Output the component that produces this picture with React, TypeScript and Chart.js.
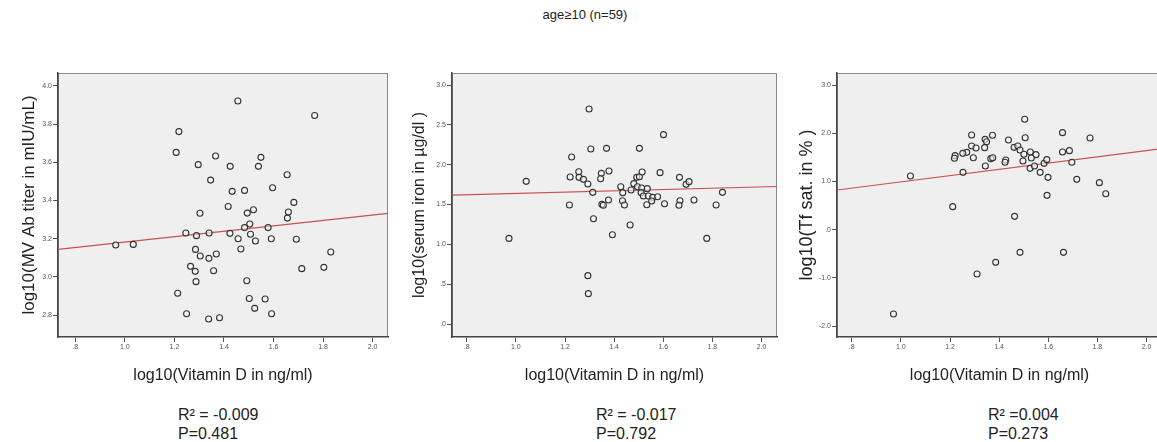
import React, { useEffect, useRef } from "react";
import { Chart, registerables } from "chart.js";

Chart.register(...registerables);
Chart.defaults.font.family = "'Liberation Sans', Arial, sans-serif";

// ---- shared tick labels ----
const xTicks = [0.8, 1.0, 1.2, 1.4, 1.6, 1.8, 2.0];
const xTickLabels = [".8", "1.0", "1.2", "1.4", "1.6", "1.8", "2.0"];

const y1Ticks = [2.8, 3.0, 3.2, 3.4, 3.6, 3.8, 4.0];
const y1TickLabels = ["2.8", "3.0", "3.2", "3.4", "3.6", "3.8", "4.0"];
const y2Ticks = [0, 0.5, 1.0, 1.5, 2.0, 2.5, 3.0];
const y2TickLabels = [".0", ".5", "1.0", "1.5", "2.0", "2.5", "3.0"];
const y3Ticks = [-2, -1, 0, 1, 2, 3];
const y3TickLabels = ["-2.0", "-1.0", ".0", "1.0", "2.0", "3.0"];

// ---- panel 1: MV Ab titer ----
const abX = [1.456, 1.766, 1.218, 1.207, 1.366, 1.549, 1.296, 1.425, 1.539, 1.655, 1.346, 1.596, 1.433, 1.483, 1.417, 1.682, 1.303, 1.494, 1.519, 1.660, 1.656, 1.504, 1.483, 1.578, 1.246, 1.340, 1.424, 1.289, 1.507, 1.457, 1.527, 1.591, 1.692, 0.963, 1.034, 1.285, 1.304, 1.369, 1.339, 1.468, 1.831, 1.265, 1.284, 1.358, 1.714, 1.803, 1.287, 1.492, 1.213, 1.502, 1.566, 1.524, 1.249, 1.592, 1.338, 1.382];
const abY = [3.921, 3.845, 3.761, 3.652, 3.633, 3.626, 3.588, 3.579, 3.579, 3.535, 3.507, 3.467, 3.448, 3.453, 3.369, 3.390, 3.333, 3.334, 3.352, 3.340, 3.308, 3.277, 3.258, 3.258, 3.230, 3.230, 3.228, 3.216, 3.223, 3.200, 3.188, 3.200, 3.197, 3.167, 3.170, 3.144, 3.109, 3.120, 3.097, 3.146, 3.130, 3.055, 3.029, 3.032, 3.043, 3.050, 2.975, 2.980, 2.914, 2.887, 2.884, 2.835, 2.807, 2.807, 2.779, 2.786];
const fit1X = [0.73, 2.062];
const fit1Y = [3.144, 3.333];

// ---- panel 2: serum iron ----
const feX = [1.298, 1.601, 1.305, 1.369, 1.503, 1.227, 1.221, 1.256, 1.257, 1.275, 1.293, 1.348, 1.345, 1.379, 1.313, 1.218, 1.042, 0.972, 1.316, 1.350, 1.356, 1.377, 1.393, 1.293, 1.295, 1.427, 1.435, 1.434, 1.442, 1.465, 1.469, 1.480, 1.492, 1.503, 1.514, 1.495, 1.512, 1.510, 1.535, 1.533, 1.519, 1.539, 1.557, 1.577, 1.553, 1.587, 1.605, 1.666, 1.693, 1.705, 1.668, 1.664, 1.725, 1.777, 1.815, 1.841];
const feY = [2.699, 2.377, 2.197, 2.205, 2.205, 2.096, 1.845, 1.912, 1.841, 1.816, 1.757, 1.891, 1.824, 1.921, 1.653, 1.494, 1.791, 1.075, 1.322, 1.502, 1.490, 1.557, 1.121, 0.607, 0.381, 1.724, 1.649, 1.548, 1.494, 1.243, 1.682, 1.762, 1.841, 1.849, 1.908, 1.724, 1.707, 1.649, 1.699, 1.498, 1.607, 1.607, 1.590, 1.598, 1.544, 1.900, 1.510, 1.841, 1.753, 1.787, 1.548, 1.490, 1.556, 1.075, 1.494, 1.653];
const fit2X = [0.74, 2.063];
const fit2Y = [1.619, 1.726];

// ---- panel 3: Tf saturation ----
const tfX = [1.504, 1.658, 1.770, 1.506, 1.373, 1.288, 1.343, 1.349, 1.438, 1.288, 1.306, 1.341, 1.268, 1.252, 1.221, 1.218, 1.295, 1.366, 1.374, 1.344, 1.253, 1.427, 1.424, 1.461, 1.476, 1.485, 1.501, 1.527, 1.550, 1.531, 1.497, 1.526, 1.544, 1.567, 1.583, 1.594, 1.599, 1.595, 1.658, 1.686, 1.696, 1.716, 1.808, 1.834, 1.039, 1.211, 1.463, 1.485, 1.662, 1.386, 1.310, 0.970];
const tfY = [2.288, 2.011, 1.900, 1.907, 1.956, 1.963, 1.873, 1.824, 1.859, 1.734, 1.693, 1.700, 1.603, 1.582, 1.534, 1.479, 1.492, 1.472, 1.492, 1.319, 1.188, 1.444, 1.396, 1.707, 1.734, 1.651, 1.562, 1.610, 1.555, 1.485, 1.423, 1.271, 1.319, 1.188, 1.375, 1.451, 1.084, 0.711, 1.610, 1.638, 1.396, 1.043, 0.974, 0.745, 1.112, 0.476, 0.275, -0.472, -0.472, -0.679, -0.921, -1.751];
const fit3X = [0.74, 2.063];
const fit3Y = [0.822, 1.679];

const mainTitle = "age≥10 (n=59)";
const xTitle = "log10(Vitamin D in ng/ml)";

type PanelCfg = {
  left: number;
  yAxisWidth: number;
  yTitlePad: number;
  yTitleSize: number;
  padRight: number;
  xs: number[];
  ys: number[];
  fx: number[];
  fy: number[];
  xMin: number;
  xMax: number;
  yMin: number;
  yMax: number;
  yTicks: number[];
  yLabels: string[];
  yTitle: string;
  stats: string[];
  statsLeft: number;
};

const panels: PanelCfg[] = [
  {
    left: 0, yAxisWidth: 58, yTitlePad: 19, yTitleSize: 17, padRight: 12,
    xs: abX, ys: abY, fx: fit1X, fy: fit1Y,
    xMin: 0.73, xMax: 2.062, yMin: 2.685, yMax: 4.068,
    yTicks: y1Ticks, yLabels: y1TickLabels,
    yTitle: "log10(MV Ab titer in mIU/mL)",
    stats: ["R² = -0.009", "P=0.481"], statsLeft: 178,
  },
  {
    left: 390, yAxisWidth: 62, yTitlePad: 20, yTitleSize: 16, padRight: 13,
    xs: feX, ys: feY, fx: fit2X, fy: fit2Y,
    xMin: 0.74, xMax: 2.063, yMin: -0.163, yMax: 3.151,
    yTicks: y2Ticks, yLabels: y2TickLabels,
    yTitle: "log10(serum iron in µg/dl )",
    stats: ["R² = -0.017", "P=0.792"], statsLeft: 596,
  },
  {
    left: 775, yAxisWidth: 62, yTitlePad: 21, yTitleSize: 18, padRight: 13,
    xs: tfX, ys: tfY, fx: fit3X, fy: fit3Y,
    xMin: 0.74, xMax: 2.063, yMin: -2.228, yMax: 3.249,
    yTicks: y3Ticks, yLabels: y3TickLabels,
    yTitle: "log10(Tf sat. in % )",
    stats: ["R² =0.004", "P=0.273"], statsLeft: 988,
  },
];

const CANVAS_TOP = 60;
const CANVAS_W = 400;
const CANVAS_H = 330;

const framePlugin = {
  id: "frame",
  beforeDraw(chart: any) {
    const { ctx, chartArea } = chart;
    const { left, top, right, bottom } = chartArea;
    ctx.save();
    ctx.fillStyle = "#efefef";
    ctx.fillRect(left, top, right - left, bottom - top);
    ctx.strokeStyle = "#8a8a8a";
    ctx.lineWidth = 1;
    ctx.strokeRect(left + 0.5, top + 0.5, right - left - 1, bottom - top - 1);
    ctx.restore();
  },
};

function Panel({ cfg }: { cfg: PanelCfg }) {
  const ref = useRef<HTMLCanvasElement>(null);
  useEffect(() => {
    const points = cfg.xs.map((x, i) => ({ x, y: cfg.ys[i] }));
    const fit = cfg.fx.map((x, i) => ({ x, y: cfg.fy[i] }));
    const chart = new Chart(ref.current!, {
      type: "scatter",
      data: {
        datasets: [
          {
            data: fit,
            showLine: true,
            borderColor: "#c9504f",
            borderWidth: 1.2,
            pointRadius: 0,
            order: 2,
          } as any,
          {
            data: points,
            pointRadius: 3,
            pointBorderWidth: 1.1,
            borderColor: "#333",
            backgroundColor: "rgba(245,245,245,0.6)",
            order: 1,
          },
        ],
      },
      options: {
        responsive: false,
        animation: false,
        layout: { padding: { top: 13, right: cfg.padRight, left: 0, bottom: 0 } },
        plugins: { legend: { display: false }, tooltip: { enabled: false } },
        scales: {
          x: {
            type: "linear",
            min: cfg.xMin,
            max: cfg.xMax,
            afterBuildTicks: (s: any) => {
              s.ticks = xTicks.map((v) => ({ value: v }));
            },
            afterFit: (s: any) => {
              s.height = CANVAS_H - 277;
            },
            ticks: {
              callback: (_v: any, i: number) => xTickLabels[i],
              font: { size: 7 },
              color: "#555",
              padding: 1,
              maxRotation: 0,
              autoSkip: false,
            },
            grid: { drawOnChartArea: false, drawTicks: true, tickLength: 5, color: "#555" },
            border: { display: true, color: "#444", width: 1.5 },
            title: {
              display: true,
              text: xTitle,
              font: { size: 16 },
              color: "#222",
              padding: { top: 0, bottom: 5 },
            },
          },
          y: {
            type: "linear",
            min: cfg.yMin,
            max: cfg.yMax,
            afterBuildTicks: (s: any) => {
              s.ticks = cfg.yTicks.map((v) => ({ value: v }));
            },
            afterFit: (s: any) => {
              s.width = cfg.yAxisWidth;
            },
            ticks: {
              callback: (_v: any, i: number) => cfg.yLabels[i],
              font: { size: 7 },
              color: "#555",
              padding: 1,
              autoSkip: false,
            },
            grid: { drawOnChartArea: false, drawTicks: true, tickLength: 5, color: "#555" },
            border: { display: true, color: "#444", width: 1.5 },
            title: {
              display: true,
              text: cfg.yTitle,
              font: { size: cfg.yTitleSize },
              color: "#222",
              padding: { top: cfg.yTitlePad, bottom: 0 },
            },
          },
        },
      },
      plugins: [framePlugin],
    });
    return () => chart.destroy();
  }, [cfg]);
  return (
    <canvas
      ref={ref}
      width={CANVAS_W}
      height={CANVAS_H}
      style={{ position: "absolute", left: cfg.left, top: CANVAS_TOP, width: CANVAS_W, height: CANVAS_H }}
    />
  );
}

export default function App() {
  return (
    <div
      style={{
        position: "fixed",
        left: 0,
        top: 0,
        width: 1157,
        height: 442,
        overflow: "hidden",
        background: "#fff",
        fontFamily: "'Liberation Sans', Arial, sans-serif",
        color: "#222",
      }}
    >
      <div
        style={{
          position: "absolute",
          left: 0,
          top: 7,
          width: 1170,
          textAlign: "center",
          fontSize: 13,
          lineHeight: "16px",
        }}
      >
        {mainTitle}
      </div>
      {panels.map((p, i) => (
        <Panel key={i} cfg={p} />
      ))}
      {panels.map((p, i) => (
        <div
          key={"s" + i}
          style={{
            position: "absolute",
            left: p.statsLeft,
            top: 405,
            fontSize: 16,
            lineHeight: "19px",
            whiteSpace: "nowrap",
          }}
        >
          <div>{p.stats[0]}</div>
          <div>{p.stats[1]}</div>
        </div>
      ))}
    </div>
  );
}
